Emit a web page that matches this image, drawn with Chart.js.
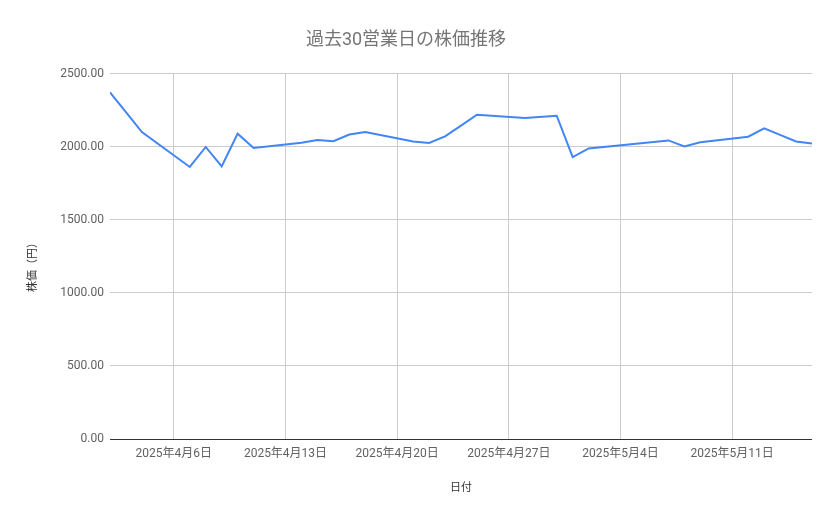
<!DOCTYPE html>
<html>
<head>
<meta charset="utf-8">
<script src="https://cdn.jsdelivr.net/npm/chart.js@4/dist/chart.umd.min.js"></script>
<style>
  body { margin: 0; background: #fff; }
  canvas { display: block; }
</style>
</head>
<body>
<canvas id="chart1" width="839" height="519"></canvas>
<script>
// 過去30営業日 (dates and closing prices)
var dates = ['2025-04-02', '2025-04-03', '2025-04-04', '2025-04-07', '2025-04-08', '2025-04-09', '2025-04-10', '2025-04-11',
    '2025-04-14', '2025-04-15', '2025-04-16', '2025-04-17', '2025-04-18', '2025-04-21', '2025-04-22', '2025-04-23',
    '2025-04-24', '2025-04-25', '2025-04-28', '2025-04-30', '2025-05-01', '2025-05-02', '2025-05-07', '2025-05-08',
    '2025-05-09', '2025-05-12', '2025-05-13', '2025-05-14', '2025-05-15', '2025-05-16'];
var prices = [2372, 2236, 2100, 1861, 1998, 1865, 2089, 1991,
    2027, 2046, 2038, 2083, 2100, 2036, 2025, 2071,
    2144, 2219, 2196, 2212, 1929, 1988, 2043, 2002,
    2030, 2068, 2126, 2081, 2036, 2022];
var xTickDates = ['2025-04-06', '2025-04-13', '2025-04-20', '2025-04-27', '2025-05-04', '2025-05-11'];
var yTicks = [0, 500, 1000, 1500, 2000, 2500];

function dayNum(s) {
    var p = s.split('-');
    return Date.UTC(+p[0], +p[1] - 1, +p[2]) / 86400000;
}

function dayLabel(v) {
    var d = new Date(v * 86400000);
    return d.getUTCFullYear() + '年' + (d.getUTCMonth() + 1) + '月' + d.getUTCDate() + '日';
}

var points = dates.map(function(s, i) {
    return { x: dayNum(s), y: prices[i] };
});

var font = "Roboto, 'Noto Sans CJK JP', sans-serif";

document.addEventListener("DOMContentLoaded", function() {
    const ctx1 = document.getElementById('chart1').getContext('2d');
    const chart1 = new Chart(ctx1, {
        type: 'line',
        data: {
            datasets: [{
                label: '株価',
                data: points,
                borderColor: '#4285F4',
                borderWidth: 2,
                pointRadius: 0,
                fill: false,
                tension: 0
            }]
        },
        options: {
            responsive: false,
            animation: false,
            layout: {
                padding: { left: 0, right: 27, top: 0, bottom: 0 }
            },
            plugins: {
                legend: { display: false },
                tooltip: { enabled: false },
                title: {
                    display: true,
                    text: '過去30営業日の株価推移',
                    color: '#757575',
                    font: { family: font, size: 18, weight: 'normal' },
                    padding: { top: 30, bottom: 22 }
                }
            },
            scales: {
                x: {
                    type: 'linear',
                    min: dayNum(dates[0]),
                    max: dayNum(dates[dates.length - 1]),
                    afterBuildTicks: function(scale) {
                        scale.ticks = xTickDates.map(function(s) { return { value: dayNum(s) }; });
                    },
                    afterFit: function(scale) { scale.height = 80; },
                    ticks: {
                        color: '#616161',
                        font: { family: font, size: 12 },
                        padding: 8,
                        maxRotation: 0,
                        callback: function(v) { return dayLabel(v); }
                    },
                    grid: { color: '#cccccc', drawTicks: false },
                    border: { display: false },
                    title: {
                        display: true,
                        text: '日付',
                        color: '#333333',
                        font: { family: font, size: 11 },
                        padding: { top: 14, bottom: 24 }
                    }
                },
                y: {
                    min: 0,
                    max: 2500,
                    afterBuildTicks: function(scale) {
                        scale.ticks = yTicks.map(function(v) { return { value: v }; });
                    },
                    afterFit: function(scale) { scale.width = 110; },
                    ticks: {
                        color: '#616161',
                        font: { family: font, size: 12 },
                        padding: 6,
                        callback: function(v) { return v.toFixed(2); }
                    },
                    grid: {
                        color: function(c) { return c.tick && c.tick.value === 0 ? '#333333' : '#cccccc'; },
                        drawTicks: false
                    },
                    border: { display: false },
                    title: {
                        display: true,
                        text: '株価（円）      ',
                        color: '#333333',
                        font: { family: font, size: 11 },
                        padding: { top: 27, bottom: 4 }
                    }
                }
            }
        }
    });
});
</script>
</body>
</html>
